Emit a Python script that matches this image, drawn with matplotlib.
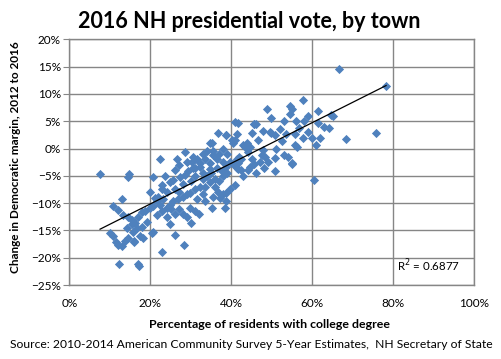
import numpy as np
import matplotlib
matplotlib.use("Agg")
import matplotlib.pyplot as plt
from matplotlib.ticker import PercentFormatter

# Percentage of residents with college degree (x) and change in Dem margin (y), by town
college_pct = [
    7.6, 14.7, 14.5, 20.6, 12.2, 16.9, 17.2, 22.8, 28.2, 26.0, 30.0, 15.9, 20.4, 18.2,
    13.0, 10.8, 12.0, 13.2, 14.5, 15.4, 16.2, 16.9, 17.9, 18.6, 19.9, 20.6, 21.6, 19.1,
    17.9, 16.7, 15.4, 15.7, 14.2, 21.6, 22.8, 24.1, 24.9, 20.6, 10.0, 10.8, 11.5, 12.0,
    13.0, 13.7, 14.5, 16.0, 17.4,
    33.4, 35.2, 38.4, 29.7, 31.5, 32.9, 35.4, 37.1, 38.8,
    19.9, 21.1, 21.8, 23.1, 22.3, 24.1, 24.9, 25.5, 26.8, 28.0, 29.0, 29.7, 31.0, 32.2,
    33.4, 34.7, 35.9, 36.6, 37.9, 38.8, 39.6, 40.8,
    23.6, 22.8, 24.9, 25.5, 27.3, 28.5, 29.2, 30.5, 32.2, 32.9, 34.7, 36.4, 37.6, 38.8,
    40.3, 41.3,
    50.7, 54.9, 60.3,
    41.0, 36.6, 38.8, 40.1, 40.3, 35.2, 35.6, 35.4, 28.5, 22.3, 26.5, 30.5, 31.5, 30.2,
    32.2, 33.4, 34.7, 36.4, 37.9, 39.6, 41.3,
    66.7, 78.2, 75.8, 68.4, 64.2, 65.0, 64.7, 61.4, 61.3, 59.0, 61.0, 57.8, 54.4, 54.9,
    54.6, 48.7, 49.9, 53.1, 45.5, 41.6, 47.7, 49.5, 49.9, 50.7, 56.8, 57.8, 55.8, 53.4,
    52.6, 55.8, 56.3, 52.9, 53.9, 54.9, 50.9, 45.2, 46.5, 43.8, 42.8, 43.4, 44.6, 44.1,
    47.7, 47.5, 48.2, 47.0, 45.2, 45.7, 44.6, 42.5, 41.6, 40.8, 41.3,
    41.6, 42.5, 34.7, 38.8, 45.7,
    26.0, 27.0, 28.0, 30.0, 31.0, 33.0, 34.0, 35.0, 36.0, 37.0, 38.0, 39.0, 27.0, 28.0,
    29.0, 31.0, 32.0, 26.0, 25.0, 23.0, 24.0, 26.0, 27.0, 29.0, 31.0, 33.0, 34.0, 37.0,
    38.0, 39.0, 42.0, 43.0, 44.0, 46.0, 48.0, 49.0, 51.0, 52.0, 56.0, 58.0, 59.0, 60.0,
    62.0, 63.0, 46.0,
]
dem_margin_change = [
    -4.6, -4.6, -5.3, -5.3, -21.2, -21.1, -21.6, -18.9, -17.6, -15.9, -13.7, -17.2, -15.4, -16.3,
    -9.3, -10.6, -11.2, -12.1, -12.5, -13.0, -13.6, -12.6, -11.7, -11.5, -10.8, -10.6, -9.7, -13.4,
    -14.3, -14.5, -13.9, -15.2, -14.5, -12.1, -11.5, -12.6, -13.9, -15.2, -15.4, -16.1, -17.2, -17.6,
    -17.9, -17.0, -16.3, -17.0, -16.1,
    -9.7, -10.8, -10.8, -10.8, -9.3, -8.4, -8.8, -9.0, -9.7,
    -7.9, -9.0, -8.8, -9.3, -10.3, -10.8, -10.3, -9.7, -9.3, -8.8, -8.4, -8.1, -7.5, -7.1,
    -7.0, -6.2, -7.0, -7.9, -8.4, -8.1, -7.5, -6.6,
    -5.1, -6.6, -6.2, -5.7, -5.3, -4.8, -4.2, -3.5, -3.3, -4.4, -3.8, -3.5, -4.2, -3.3,
    -2.9, -3.5,
    -4.2, -2.9, -5.7,
    4.8, 2.9, 2.4, 1.6, 1.1, 1.1, -0.4, -1.1, -0.7, -2.0, -2.0, -1.5, -2.0, -2.4,
    -2.6, -2.0, -2.6, -2.0, -2.4, -2.4, -2.0,
    14.5, 11.5, 2.9, 1.8, 3.7, 5.9, 6.2, 6.8, 4.6, 6.0, 0.7, 8.8, 7.7, 7.3,
    6.4, 7.3, 5.5, 5.1, 4.4, 4.6, 3.3, 3.1, 2.9, 2.4, 3.8, 2.0, 2.6, 2.6,
    1.3, 0.7, 0.2, -1.1, -1.6, -2.6, -1.8, 2.9, 1.6, 1.1, 0.7, 0.2, 0.2, -0.7,
    -0.2, -1.1, -1.6, -2.4, -2.0, -2.9, -3.3, -2.0, -2.6, 1.6, 2.6,
    -3.8, -4.0, 1.1, 2.4, 4.4,
    -7.5, -8.0, -6.5, -6.0, -5.0, -5.5, -5.0, -4.5, -5.5, -6.0, -5.0, -4.5, -11.0, -12.0,
    -12.5, -11.5, -12.0, -12.0, -11.0, -7.5, -8.0, -4.0, -3.0, -2.5, -3.5, -1.0, -0.5, -1.0,
    0.0, -1.0, -1.5, -5.0, -4.0, -4.5, -3.5, -2.5, 0.0, 3.5, 5.0, 5.0, 3.0, 2.0,
    2.0, 4.0, 4.5,
]

# Excel linear trendline
trend_slope = 0.3725
trend_intercept = -17.6
r_squared = "0.6877"

x = np.array(college_pct)
y = np.array(dem_margin_change)

fig = plt.figure(figsize=(5.02, 3.59), dpi=100)
ax = fig.add_axes([0.138, 0.206, 0.807, 0.6845])

grid_col = "#868686"
ax.scatter(x, y, marker="D", s=22, color="#4F81BD", linewidths=0, zorder=3)

xs = np.array([x.min(), x.max()])
ax.plot(xs, trend_slope * xs + trend_intercept, color="black", lw=0.9, zorder=4)

ax.set_xlim(0, 100)
ax.set_ylim(-25, 20)
ax.set_xticks(np.arange(0, 101, 20))
ax.set_yticks(np.arange(-25, 21, 5))
ax.xaxis.set_major_formatter(PercentFormatter(decimals=0))
ax.yaxis.set_major_formatter(PercentFormatter(decimals=0))
ax.grid(True, color=grid_col, lw=1.0, zorder=0)
for s in ax.spines.values():
    s.set_color(grid_col)
    s.set_linewidth(1.0)
ax.tick_params(axis="y", length=4, color=grid_col, labelsize=8.5, pad=2)
ax.tick_params(axis="x", length=0, labelsize=8.5, pad=9)
for lab in ax.get_xticklabels() + ax.get_yticklabels():
    lab.set_family("Lato")

ax.text(0.81, 0.055, "R$^2$ = " + r_squared, transform=ax.transAxes,
        fontsize=8.3, family="Lato")

fig.text(249 / 502, 1 - 21 / 359, "2016 NH presidential vote, by town",
         ha="center", va="center", fontsize=15.5, fontweight="bold", family="Lato")
fig.text(270 / 502, 1 - 324 / 359, "Percentage of residents with college degree",
         ha="center", va="center", fontsize=8.9, fontweight="bold", family="Lato")
fig.text(16 / 502, 1 - 157 / 359, "Change in Democratic margin, 2012 to 2016", rotation=90,
         ha="center", va="center", fontsize=8.5, fontweight="bold", family="Lato")
fig.text(10 / 502, 1 - 344 / 359,
         "Source: 2010-2014 American Community Survey 5-Year Estimates,  NH Secretary of State",
         ha="left", va="center", fontsize=8.7, family="Lato")

fig.savefig("out.png", dpi=100)
